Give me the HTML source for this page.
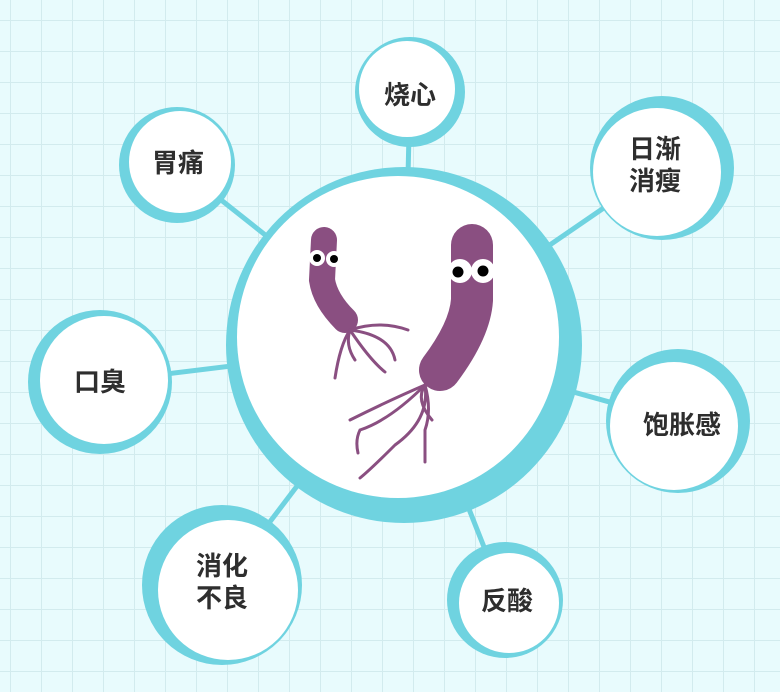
<!DOCTYPE html>
<html><head><meta charset="utf-8"><style>
html,body{margin:0;padding:0}
body{width:780px;height:692px;overflow:hidden;background:#e8fbfd;
background-image:linear-gradient(#d2ebee 1px,transparent 1px),linear-gradient(90deg,#d2ebee 1px,transparent 1px);
background-size:31px 31px;background-position:10px 20px;}
svg{position:absolute;left:0;top:0}
text{font-family:"Liberation Sans","Noto Sans CJK SC",sans-serif;font-weight:bold;font-size:26px;fill:#2e2e2e;text-anchor:middle}
</style></head><body>
<svg width="780" height="692" viewBox="0 0 780 692">
<g stroke="#6fd3e0" stroke-width="5">
<line x1="404" y1="345" x2="410" y2="92"/>
<line x1="404" y1="345" x2="177" y2="165"/>
<line x1="404" y1="345" x2="662" y2="168"/>
<line x1="404" y1="345" x2="100" y2="382"/>
<line x1="404" y1="345" x2="678" y2="421"/>
<line x1="404" y1="345" x2="222" y2="585"/>
<line x1="404" y1="345" x2="505" y2="600"/>
</g>
<g fill="#6fd3e0">
<circle cx="404" cy="345" r="178"/>
<circle cx="410" cy="92" r="55"/>
<circle cx="177" cy="165" r="58"/>
<circle cx="662" cy="168" r="72"/>
<circle cx="100" cy="382" r="72"/>
<circle cx="678" cy="421" r="72"/>
<circle cx="222" cy="585" r="80"/>
<circle cx="505" cy="600" r="58"/>
</g>
<g fill="#fff">
<circle cx="398" cy="337" r="161"/>
<circle cx="407" cy="89" r="48"/>
<circle cx="180" cy="162" r="51"/>
<circle cx="657" cy="172" r="64"/>
<circle cx="104" cy="380" r="64"/>
<circle cx="674" cy="426" r="64"/>
<circle cx="228" cy="590" r="70"/>
<circle cx="509" cy="603" r="50"/>
</g>
<text x="410" y="104">烧心</text>
<text x="178" y="172">胃痛</text>
<text x="655" y="158">日渐</text>
<text x="655" y="190">消瘦</text>
<text x="100" y="391">口臭</text>
<text x="682" y="434">饱胀感</text>
<text x="222" y="575">消化</text>
<text x="222" y="607">不良</text>
<text x="507" y="610">反酸</text>
<path d="M324 240 L322 280 Q325 300 345 320" stroke="#8a4f81" stroke-width="26" stroke-linecap="round" fill="none"/>
<g stroke="#8a4f81" stroke-width="3" fill="none" stroke-linecap="round">
<path d="M350 330 Q380 320 408 330"/>
<path d="M350 330 Q390 335 395 360"/>
<path d="M350 330 Q370 360 385 372"/>
<path d="M350 330 Q340 345 335 378"/>
<path d="M350 330 Q345 345 355 360"/>
</g>
<circle cx="317" cy="258" r="8" fill="#fff"/><circle cx="334" cy="259" r="8" fill="#fff"/>
<circle cx="317" cy="258" r="4" fill="#000"/><circle cx="334" cy="259" r="4" fill="#000"/>
<path d="M472 245 L472 300 Q470 330 440 370" stroke="#8a4f81" stroke-width="42" stroke-linecap="round" fill="none"/>
<g stroke="#8a4f81" stroke-width="3" fill="none" stroke-linecap="round">
<path d="M425 385 Q390 400 350 420"/>
<path d="M425 385 Q390 420 360 430 Q355 440 358 453"/>
<path d="M425 385 Q430 420 395 445 Q370 470 360 478"/>
<path d="M425 385 Q432 410 425 430 Q425 450 425 462"/>
<path d="M425 385 Q415 400 432 420"/>
</g>
<circle cx="460" cy="271" r="12" fill="#fff"/><circle cx="483" cy="271" r="12" fill="#fff"/>
<circle cx="458" cy="272" r="5.5" fill="#000"/><circle cx="483" cy="271" r="5.5" fill="#000"/>
</svg>
</body></html>
